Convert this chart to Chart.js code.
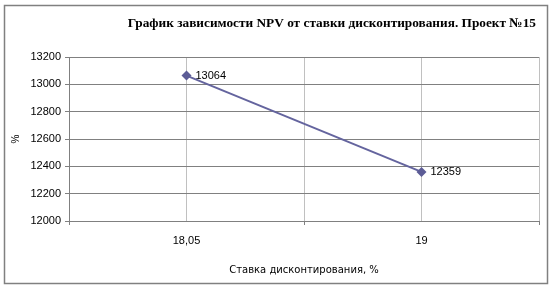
<!DOCTYPE html>
<html>
<head>
<meta charset="utf-8">
<script src="https://cdn.jsdelivr.net/npm/chart.js@4.4.0/dist/chart.umd.min.js"></script>
<style>
html,body{margin:0;padding:0;background:#fff;}
#wrap{width:553px;height:289px;position:relative;}
</style>
</head>
<body>
<div id="wrap"><canvas id="c" width="553" height="289"></canvas></div>
<script>
const titleText = "График зависимости NPV от ставки дисконтирования. Проект №15";
const categories = ["18,05", "19"];
const npvValues = [13064, 12359];
const yMin = 12000, yMax = 13200, yStep = 200;
const xTitle = "Ставка дисконтирования, %";
const yTitle = "%";

const points = categories.map((c, i) => ({x: i, y: npvValues[i]}));

const decor = {
  id: 'decor',
  beforeDraw(chart) {
    const ctx = chart.ctx;
    ctx.save();
    ctx.fillStyle = '#fff';
    ctx.fillRect(0, 0, chart.width, chart.height);
    ctx.strokeStyle = '#808080';
    ctx.lineWidth = 1.5;
    ctx.strokeRect(4.5, 5.5, 543, 278);
    ctx.fillStyle = '#000';
    ctx.font = 'bold 13.3px "Liberation Serif"';
    ctx.textAlign = 'right';
    ctx.textBaseline = 'middle';
    ctx.fillText(titleText, 536, 24);
    ctx.restore();
  },
  afterDatasetsDraw(chart) {
    const ctx = chart.ctx;
    const meta = chart.getDatasetMeta(0);
    ctx.save();
    ctx.fillStyle = '#000';
    ctx.font = '11px "Liberation Sans"';
    ctx.textAlign = 'left';
    ctx.textBaseline = 'middle';
    meta.data.forEach((el, i) => {
      ctx.fillText(String(npvValues[i]), el.x + 9, el.y);
    });
    ctx.restore();
  }
};

new Chart(document.getElementById('c'), {
  type: 'line',
  data: {
    datasets: [{
      data: points,
      borderColor: '#64649e',
      backgroundColor: '#5c5c96',
      borderWidth: 2,
      pointStyle: 'rectRot',
      pointRadius: 5,
      pointHoverRadius: 5,
      pointBorderWidth: 0,
      tension: 0
    }]
  },
  options: {
    responsive: false,
    animation: false,
    devicePixelRatio: 1,
    plugins: {legend: {display: false}, tooltip: {enabled: false}, title: {display: false}},
    layout: {padding: {top: 57, left: 0, right: 14, bottom: 0}},
    scales: {
      x: {
        type: 'linear',
        min: -0.5, max: 1.5,
        afterFit(s) { s.height = 68; },
        ticks: {
          stepSize: 0.5, autoSkip: false, maxRotation: 0,
          padding: 9,
          color: '#000',
          font: {family: 'Liberation Sans', size: 11},
          callback: (v) => Number.isInteger(v) ? categories[v] : ''
        },
        grid: {
          color: '#c0c0c0',
          lineWidth: 1,
          tickLength: 4,
          tickColor: (c) => (c.tick && Number.isInteger(c.tick.value)) ? 'rgba(0,0,0,0)' : '#808080'
        },
        border: {color: '#808080', width: 1},
        title: {
          display: true, text: xTitle, color: '#000',
          font: {family: 'DejaVu Sans', size: 10},
          padding: {top: 0, bottom: 13}
        }
      },
      y: {
        min: yMin, max: yMax,
        afterFit(s) { s.width = 69; },
        ticks: {
          stepSize: yStep, padding: 4, color: '#000',
          font: {family: 'Liberation Sans', size: 11},
          callback: (v) => String(v)
        },
        grid: {color: '#808080', lineWidth: 1, tickLength: 4, tickColor: '#808080'},
        border: {color: '#808080', width: 1},
        title: {
          display: true, text: yTitle, color: '#000',
          font: {family: 'Liberation Sans', size: 10},
          padding: {top: 10, bottom: 0}
        }
      }
    }
  },
  plugins: [decor]
});
</script>
</body>
</html>
